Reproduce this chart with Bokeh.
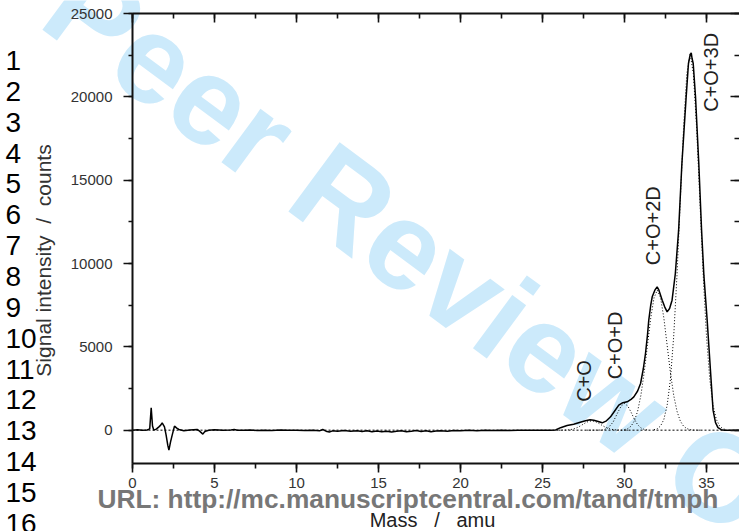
import math
from bokeh.plotting import figure
from bokeh.models import Range1d, LinearAxis, SingleIntervalTicker, Label, ColumnDataSource
from bokeh.embed import file_html
from bokeh.resources import INLINE
from bokeh.core.properties import value

# ---------------- data ----------------
mass = [0.0, 0.3, 0.6, 0.9, 1.05, 1.14, 1.22, 1.3, 1.45, 1.61, 1.72, 1.81, 1.88, 1.95, 2.05,
        2.15, 2.22, 2.32, 2.42, 2.56, 2.7, 2.83, 3.13, 3.5, 3.94, 4.05, 4.14, 4.29, 4.38, 4.45,
        4.65, 5.0, 5.5, 6.0, 6.2, 6.4, 6.8, 7.2, 7.6, 8.0, 8.5, 9.0, 9.5, 10.0, 10.5, 11.0,
        11.4, 11.6, 11.8, 12.0, 12.2, 12.5, 12.9, 13.3, 13.7, 14.0, 14.3, 14.6, 14.9, 15.2,
        15.5, 15.8, 16.1, 16.4, 16.7, 17.0, 17.3, 17.6, 17.9, 18.2, 18.5, 18.8, 19.2, 19.6,
        20.0, 20.5, 21.0, 21.5, 22.0, 22.5, 23.0, 23.5, 24.0, 24.5, 25.0, 25.5, 25.8,
        26.1, 26.5, 26.9, 27.3, 27.62, 27.9, 28.13, 28.4, 28.64, 28.9, 29.15, 29.4, 29.65,
        29.9, 30.16, 30.4, 30.57, 30.8, 30.98, 31.15, 31.28, 31.4, 31.48, 31.6, 31.69, 31.85,
        31.99, 32.1, 32.3, 32.45, 32.6, 32.75, 32.9, 33.0, 33.1, 33.3, 33.5, 33.76, 33.9,
        34.0, 34.07, 34.12, 34.19, 34.33, 34.53, 34.7, 34.84, 35.04, 35.24, 35.4, 35.55,
        35.7, 35.9, 36.1, 36.5, 37.0]
signal = [0, 20, -10, 10, 80, 1340, 250, 0, 60, 200, 300, 440, 320, 200, -300,
          -900, -1200, -700, -300, 240, 120, 40, -40, 10, 40, -30, -100, -240, -120, -60,
          0, 20, -10, 10, 40, 0, -10, 10, -20, 0, -20, 10, -10, 0, -20, 0,
          -40, 40, -60, -110, -40, -70, -20, -60, -30, -80, -40, -90, -50, -100,
          -60, -110, -70, -40, -90, -60, -20, -80, -40, -100, -50, -30, -60, -20,
          -40, -10, -30, 0, -20, -10, -20, 0, -10, 0, -10, 0, 10,
          150, 280, 360, 480, 560, 620, 600, 520, 440, 560, 800, 1150, 1500,
          1650, 1700, 1850, 2000, 2350, 2800, 3700, 4600, 5700, 6600, 7500, 8000, 8400,
          8600, 8400, 7800, 7400, 7100, 7300, 7800, 8600, 9400, 12000, 16000, 20000, 22000,
          22500, 22640, 22300, 22000, 20000, 16000, 12000, 9300, 6600, 3600, 1200, 450,
          150, 30, 0, 0, 0]

fit_co_mass = [26.0, 26.2, 26.4, 26.6, 26.8, 27.0, 27.2, 27.4, 27.6, 27.8, 28.0, 28.2, 28.4,
               28.6, 28.8, 29.0, 29.2, 29.4, 29.6, 29.8, 30.0, 30.2]
fit_co_signal = [0, 3, 8, 22, 52, 107, 194, 309, 430, 524, 560, 524, 430,
                 309, 194, 107, 52, 22, 8, 3, 0, 0]

fit_cod_mass = [27.7, 28.2, 28.7, 29.0, 29.3, 29.6, 29.8, 30.0, 30.2, 30.4, 30.6, 30.8,
                31.0, 31.2, 31.4]
fit_cod_signal = [0, 1, 13, 135, 477, 1080, 1450, 1600, 1450, 1080, 660, 330,
                  135, 45, 13]

fit_co2d_mass = [30.0, 30.2, 30.4, 30.6, 30.8, 31.0, 31.2, 31.4, 31.6, 31.8, 32.0, 32.2,
                 32.4, 32.6, 32.8, 33.0, 33.2, 33.4, 33.6, 33.8, 34.0, 34.2, 34.4, 34.7]
fit_co2d_signal = [32, 93, 239, 553, 1137, 2094, 3453, 5095, 6728, 7947, 8400, 7947,
                   6728, 5095, 3453, 2094, 1137, 553, 239, 93, 32, 10, 3, 0]

fit_co3d_mass = [31.8, 32.0, 32.2, 32.4, 32.6, 32.8, 33.0, 33.2, 33.4, 33.6, 33.8, 34.0,
                 34.2, 34.4, 34.6, 34.8, 35.0, 35.2, 35.4, 35.6, 35.8, 36.0, 36.2]
fit_co3d_signal = [27, 87, 251, 644, 1487, 3050, 5630, 9290, 13720, 18100, 21380, 22600,
                   21380, 18100, 13720, 9290, 5630, 3050, 1487, 644, 251, 87, 27]

fit_base_mass = [0.0, 37.0]
fit_base_signal = [0, 0]

peak_names = ["C+O", "C+O+D", "C+O+2D", "C+O+3D"]
peak_label_mass = [27.5, 29.45, 31.75, 35.25]
peak_label_signal = [1700, 3050, 9900, 19100]

x_axis_min, x_axis_max = 0.0, 37.0
y_axis_min, y_axis_max = -2000, 25000

NB = "\u00a0"
line_numbers = [str(i) for i in range(1, 17)]
x_label = "Mass" + NB * 3 + "/" + NB * 3 + "amu"
y_label = "Signal intensity" + NB * 2 + "/" + NB * 2 + "counts"
url_text = "URL: http://mc.manuscriptcentral.com/tandf/tmph"
watermark_text = "For Peer Review Only"

# ---------------- layout: frame covers the whole canvas ----------------
W, H = 739, 531
FRAME_L, FRAME_T, FRAME_B = 132, 13, 463          # pixel position of the axis box
px_per_mass = 16.4
px_per_count = (FRAME_B - FRAME_T) / (y_axis_max - y_axis_min)

x_start = x_axis_min - FRAME_L / px_per_mass
x_end = x_axis_min + (W - FRAME_L) / px_per_mass
y_end = y_axis_max + FRAME_T / px_per_count
y_start = y_axis_min - (H - FRAME_B) / px_per_count

FONT = "Liberation Sans"
AX = "#111111"
TXT = "#333333"

p = figure(width=W, height=H, x_range=Range1d(x_start, x_end), y_range=Range1d(y_start, y_end),
           output_backend="svg", toolbar_location=None,
           x_axis_location=None, y_axis_location=None,
           min_border_left=0, min_border_right=0, min_border_top=0, min_border_bottom=0)
p.outline_line_color = None
p.grid.visible = False
p.background_fill_color = "white"
p.border_fill_color = "white"


def make_axis(interval, loc, bounds, t_in, t_out, m_in, m_out, show_labels,
              show_line=True, standoff=0):
    ax = LinearAxis(ticker=SingleIntervalTicker(interval=interval, num_minor_ticks=2),
                    fixed_location=loc, bounds=bounds)
    ax.major_tick_in = t_in
    ax.major_tick_out = t_out
    ax.minor_tick_in = m_in
    ax.minor_tick_out = m_out
    ax.major_tick_line_color = AX
    ax.minor_tick_line_color = AX
    ax.major_tick_line_width = 1.6
    ax.minor_tick_line_width = 1.6
    if show_line:
        ax.axis_line_color = AX
        ax.axis_line_width = 2
    else:
        ax.axis_line_color = None
    if show_labels:
        ax.major_label_text_font = FONT
        ax.major_label_text_font_size = "15px"
        ax.major_label_text_color = TXT
        ax.major_label_standoff = standoff
    else:
        ax.major_label_text_color = None
    return ax


# watermark (underneath everything)
p.add_layout(Label(x=388, y=H - 231, x_units="screen", y_units="screen", text=watermark_text,
                   angle=-0.637, text_align="center", text_baseline="middle",
                   text_font=FONT, text_font_style="bold", text_font_size="125px",
                   text_color="#cceafb", level="underlay"))

# URL line (under tick labels)
p.add_layout(Label(x=97, y=H - 498, x_units="screen", y_units="screen", text=url_text,
                   text_align="left", text_baseline="alphabetic",
                   text_font=FONT, text_font_style="bold", text_font_size="26.3px",
                   text_color="#777777", level="underlay"))

p.add_layout(make_axis(5, y_axis_min, (x_axis_min, x_axis_max), 0, 9, 0, 5, True, standoff=5), "below")
p.add_layout(make_axis(5, y_axis_max, (x_axis_min, x_axis_max), 9, 0, 5, 0, False), "above")
p.add_layout(make_axis(5000, x_axis_min, (y_axis_min, y_axis_max), 0, 9, 0, 4, True, standoff=11), "left")
p.add_layout(make_axis(5000, x_axis_max, (y_axis_min, y_axis_max), 9, 0, 5, 0, False, show_line=False), "right")

# curves
p.line(fit_base_mass, fit_base_signal, line_color="black", line_width=1, line_dash="2 2")
for fx, fy in [(fit_co_mass, fit_co_signal), (fit_cod_mass, fit_cod_signal),
               (fit_co2d_mass, fit_co2d_signal), (fit_co3d_mass, fit_co3d_signal)]:
    p.line(fx, fy, line_color="black", line_width=1, line_dash="1 2")
p.line(mass, signal, line_color="black", line_width=1.5)

# peak labels
src = ColumnDataSource(dict(x=peak_label_mass, y=peak_label_signal, t=peak_names))
p.text(x="x", y="y", text="t", source=src, angle=math.pi / 2, text_align="left",
       text_baseline="middle", text_font=value(FONT), text_font_size="20px", text_color="#222222")

# axis titles
p.add_layout(Label(x=43, y=H - 260, x_units="screen", y_units="screen", text=y_label,
                   angle=math.pi / 2, text_align="center", text_baseline="middle",
                   text_font=FONT, text_font_size="21px", text_color="#333333"))
p.add_layout(Label(x=432, y=H - 519, x_units="screen", y_units="screen", text=x_label,
                   text_align="center", text_baseline="middle",
                   text_font=FONT, text_font_size="20px", text_color="#222222"))

# manuscript line numbers
for i, s in enumerate(line_numbers):
    yc = 60 + 30.85 * i
    p.add_layout(Label(x=5, y=H - yc, x_units="screen", y_units="screen", text=s,
                       text_align="left", text_baseline="middle",
                       text_font=FONT, text_font_size="28px", text_color="black"))

open("out.html", "w").write(file_html(p, INLINE))
